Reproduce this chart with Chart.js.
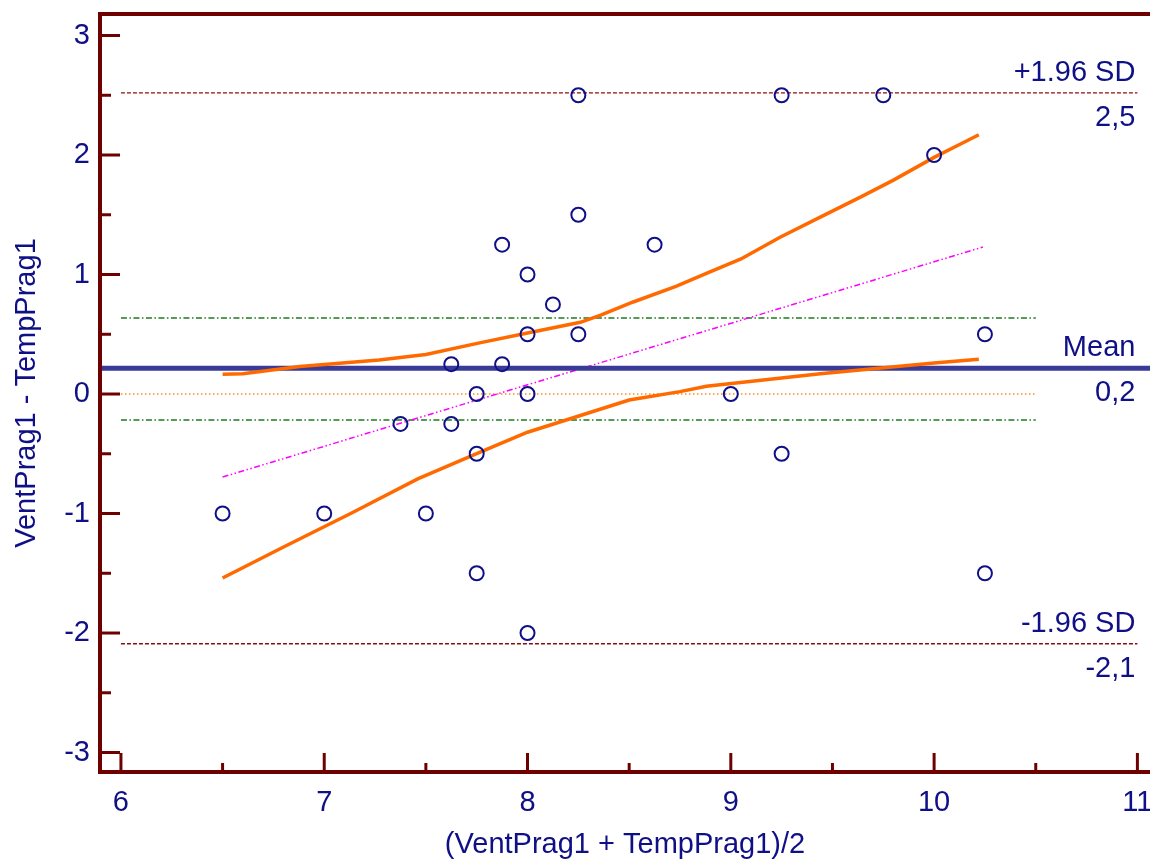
<!DOCTYPE html>
<html>
<head>
<meta charset="utf-8">
<script src="https://cdn.jsdelivr.net/npm/chart.js@4/dist/chart.umd.min.js"></script>
<style>
html,body{margin:0;padding:0;background:#fff;overflow:hidden}
#wrap{width:1150px;height:859px;position:relative}
</style>
</head>
<body>
<div id="wrap"><canvas id="c"></canvas></div>
<script>
// ---- data ----
const avgX  = [6.5, 7.0, 7.375, 7.5, 7.625, 7.625, 7.75, 7.75, 7.75, 7.875, 7.875, 8.0, 8.0, 8.0, 8.0, 8.125, 8.25, 8.25, 8.25, 8.625, 9.0, 9.25, 9.25, 9.75, 10.0, 10.25, 10.25];
const diffY = [-1.0, -1.0, -0.25, -1.0, 0.25, -0.25, 0.0, -0.5, -1.5, 1.25, 0.25, 1.0, 0.5, 0.0, -2.0, 0.75, 2.5, 1.5, 0.5, 1.25, 0.0, 2.5, -0.5, 2.5, 2.0, 0.5, -1.5];

const upperBandX = [6.5, 6.6, 6.88, 7.27, 7.5, 7.77, 8.0, 8.26, 8.36, 8.52, 8.73, 8.88, 9.05, 9.24, 9.44, 9.64, 9.8, 10.0, 10.14, 10.22];
const upperBandY = [0.165, 0.17, 0.23, 0.285, 0.33, 0.43, 0.51, 0.6, 0.66, 0.77, 0.9, 1.01, 1.13, 1.31, 1.48, 1.65, 1.79, 1.98, 2.1, 2.17];
const lowerBandX = [6.5, 6.8, 7.13, 7.46, 7.77, 8.0, 8.26, 8.5, 8.75, 8.88, 9.44, 10.0, 10.22];
const lowerBandY = [-1.54, -1.28, -1.0, -0.71, -0.485, -0.32, -0.18, -0.05, 0.02, 0.065, 0.17, 0.26, 0.29];

const regressionX = [6.5, 10.24];
const regressionY = [-0.695, 1.23];

const meanDiff   = 0.215;
const upperLoA   = 2.52;
const lowerLoA   = -2.09;
const meanCiHigh = 0.636;
const meanCiLow  = -0.218;
const zeroLine   = 0;

const xRange    = [5.897, 11.062];
const yRange    = [-3.163, 3.18];
const loaSpan   = [6, 11];
const ciSpan    = [6, 10.5];

const sideLabels = [
  {value: upperLoA, above: '+1.96 SD', below: '2,5'},
  {value: meanDiff, above: 'Mean',     below: '0,2'},
  {value: lowerLoA, above: '-1.96 SD', below: '-2,1'}
];
const xTitle = '(VentPrag1 + TempPrag1)/2';
const yTitle = 'VentPrag1 - TempPrag1';

// ---- styling ----
const NAVY = '#0f0f86';
const AXIS = '#6e0000';
const FONT = '"Liberation Sans", Arial, sans-serif';
const FS = 29;

const zip = (xs, ys) => xs.map((x, i) => ({x, y: ys[i]}));
const hline = (span, v) => [{x: span[0], y: v}, {x: span[1], y: v}];

const lineDs = (data, color, width, dash) => ({
  type: 'line', data, borderColor: color, borderWidth: width, borderDash: dash || [],
  pointRadius: 0, fill: false, tension: 0, showLine: true
});

const decor = {
  id: 'decor',
  afterDraw(chart) {
    const {ctx, chartArea: a, scales: {x, y}} = chart;
    ctx.save();
    ctx.strokeStyle = AXIS;
    ctx.lineCap = 'butt';
    ctx.lineWidth = 3;
    y.ticks.forEach(t => {
      const py = y.getPixelForValue(t.value);
      const major = Math.abs(t.value - Math.round(t.value)) < 1e-6;
      ctx.beginPath(); ctx.moveTo(a.left, py); ctx.lineTo(a.left + (major ? 20 : 11), py); ctx.stroke();
    });
    x.ticks.forEach(t => {
      const px = x.getPixelForValue(t.value);
      const major = Math.abs(t.value - Math.round(t.value)) < 1e-6;
      ctx.beginPath(); ctx.moveTo(px, a.bottom); ctx.lineTo(px, a.bottom - (major ? 19 : 9)); ctx.stroke();
    });
    ctx.lineWidth = 4;
    ctx.lineJoin = 'miter';
    ctx.beginPath();
    ctx.moveTo(chart.width, a.top); ctx.lineTo(a.left, a.top); ctx.lineTo(a.left, a.bottom); ctx.lineTo(chart.width, a.bottom);
    ctx.stroke();

    ctx.fillStyle = NAVY;
    ctx.font = FS + 'px ' + FONT;
    ctx.textAlign = 'right';
    ctx.textBaseline = 'alphabetic';
    const rx = x.getPixelForValue(11) - 2;
    sideLabels.forEach(l => {
      const py = y.getPixelForValue(l.value);
      ctx.fillText(l.above, rx, py - 12);
      ctx.fillText(l.below, rx, py + 33);
    });
    ctx.restore();
  }
};

new Chart(document.getElementById('c'), {
  type: 'scatter',
  data: {
    datasets: [
      {
        type: 'scatter', data: zip(avgX, diffY),
        pointRadius: 7, pointBorderWidth: 2, pointBorderColor: NAVY,
        pointBackgroundColor: 'rgba(0,0,0,0)', showLine: false
      },
      lineDs(zip(upperBandX, upperBandY), '#ff6a00', 3.5),
      lineDs(zip(lowerBandX, lowerBandY), '#ff6a00', 3.5),
      lineDs(hline(xRange, meanDiff), '#3a3a98', 5),
      lineDs(zip(regressionX, regressionY), '#ff00ff', 1.5, [6, 2.5, 1.5, 2.5, 1.5, 2.5]),
      lineDs(hline(loaSpan, upperLoA), '#8a1010', 1.3, [4, 2]),
      lineDs(hline(loaSpan, lowerLoA), '#8a1010', 1.3, [4, 2]),
      lineDs(hline(ciSpan, meanCiHigh), '#1e7a1e', 1.5, [6, 2.5, 1.5, 2.5]),
      lineDs(hline(ciSpan, meanCiLow), '#1e7a1e', 1.5, [6, 2.5, 1.5, 2.5]),
      lineDs(hline(ciSpan, zeroLine), '#ff8a1a', 1.5, [1.5, 2.5])
    ]
  },
  options: {
    responsive: true,
    maintainAspectRatio: false,
    animation: false,
    events: [],
    layout: {autoPadding: false, padding: {top: 14, right: 0, left: 0, bottom: 0}},
    plugins: {legend: {display: false}, tooltip: {enabled: false}},
    scales: {
      x: {
        type: 'linear', min: xRange[0], max: xRange[1],
        grid: {display: true, drawOnChartArea: false, drawTicks: true, tickLength: 14, color: 'rgba(0,0,0,0)'},
        border: {display: false},
        ticks: {
          stepSize: 0.5, includeBounds: false, autoSkip: false, maxRotation: 0,
          color: NAVY, font: {family: FONT, size: FS}, padding: 0,
          callback: v => Math.abs(v - Math.round(v)) < 1e-6 ? String(Math.round(v)) : ''
        },
        title: {display: true, text: xTitle, color: NAVY, font: {family: FONT, size: FS, lineHeight: 1}, padding: {top: 0, bottom: 0}},
        afterFit: s => { s.height = 87; s.paddingLeft = 0; s.paddingRight = 0; }
      },
      y: {
        type: 'linear', min: yRange[0], max: yRange[1],
        grid: {display: false, drawTicks: false},
        border: {display: false},
        ticks: {
          stepSize: 0.5, includeBounds: false, autoSkip: false,
          color: NAVY, font: {family: FONT, size: FS}, padding: 10,
          callback: v => Math.abs(v - Math.round(v)) < 1e-6 ? String(Math.round(v)) : ''
        },
        title: {display: true, text: yTitle, color: NAVY, font: {family: FONT, size: FS, lineHeight: 1}, padding: {top: 12, bottom: 0}},
        afterFit: s => { s.width = 100; s.paddingTop = 0; s.paddingBottom = 0; s.paddingLeft = 0; s.paddingRight = 0; }
      }
    }
  },
  plugins: [decor]
});
</script>
</body>
</html>
